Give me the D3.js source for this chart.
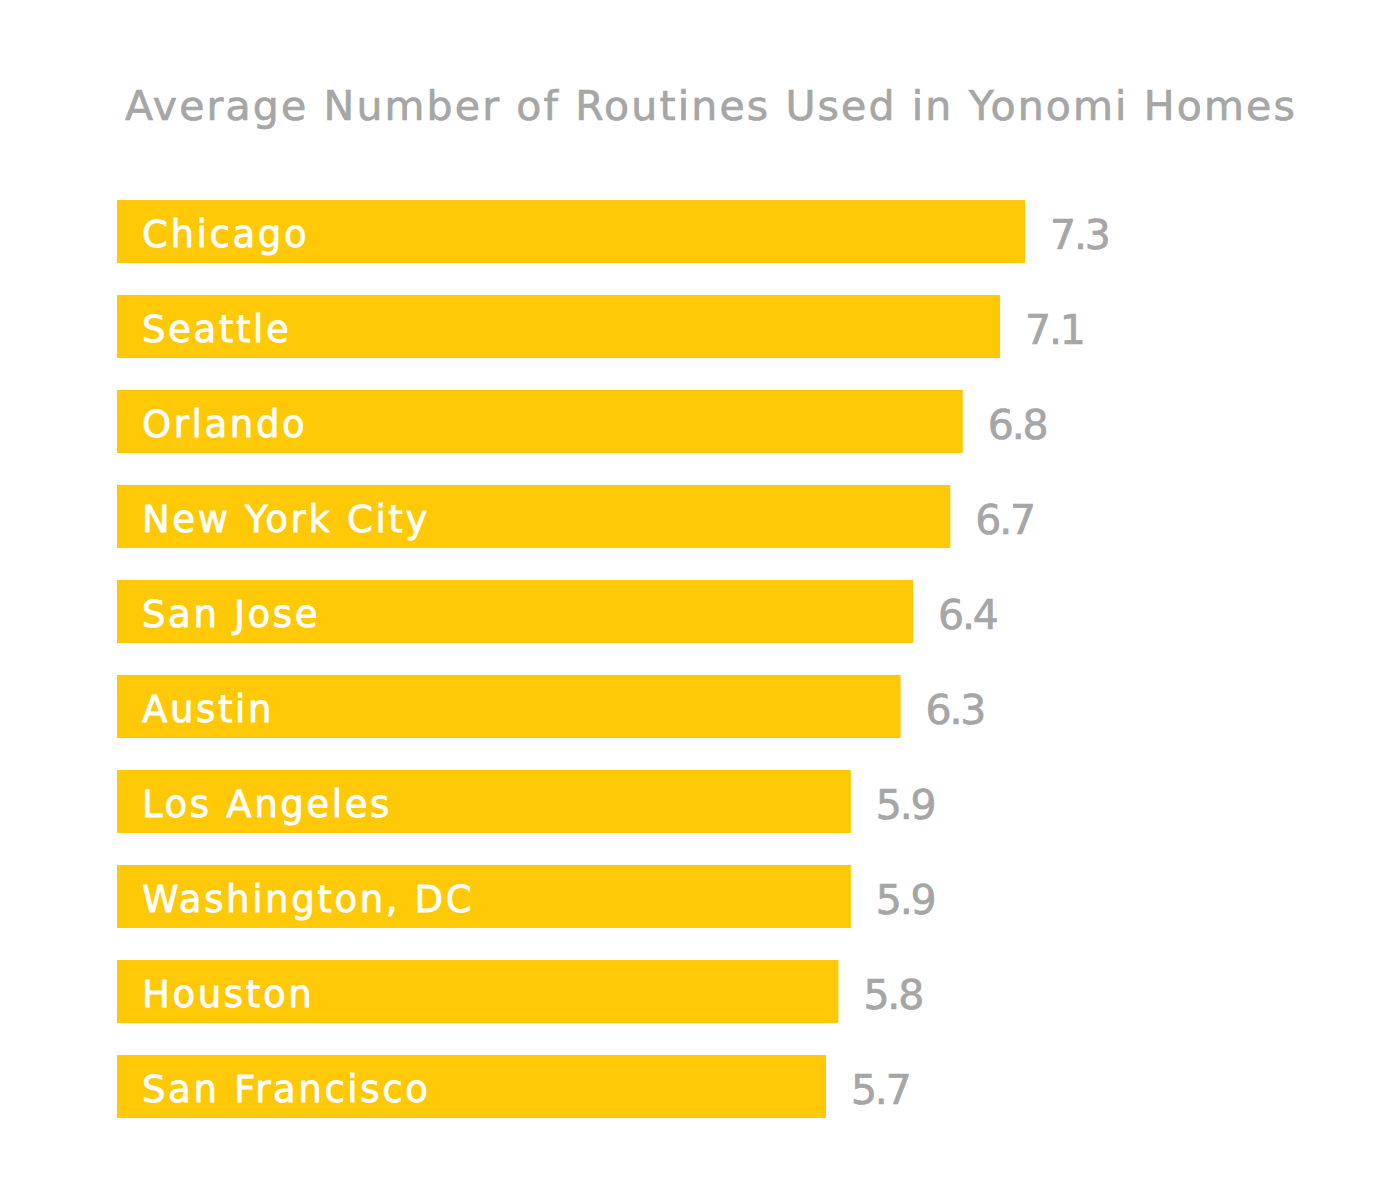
<!DOCTYPE html>
<html><head><meta charset="utf-8">
<script src="https://cdn.jsdelivr.net/npm/d3@7"></script>
<style>body{margin:0;background:#fff;} svg{display:block;}</style>
</head><body>
<svg id="chart" width="1400" height="1200"></svg>
<script>
const cities = ["Chicago","Seattle","Orlando","New York City","San Jose","Austin","Los Angeles","Washington, DC","Houston","San Francisco"];
const values = [7.3,7.1,6.8,6.7,6.4,6.3,5.9,5.9,5.8,5.7];
const valueLabels = ["7.3","7.1","6.8","6.7","6.4","6.3","5.9","5.9","5.8","5.7"];
const title = "Average Number of Routines Used in Yonomi Homes";

const FONT = "'DejaVu Sans', 'Open Sans', sans-serif";
const GRAY = "#a6a6a6";
const svg = d3.select("#chart");
const x = d3.scaleLinear().domain([0, 7.3]).range([117, 1025]);
const y = d3.scaleBand().domain(cities).range([200, 1118]).paddingInner(0.337).paddingOuter(0);

const t = svg.append("text").attr("x",125).attr("y",120)
  .attr("font-family",FONT).attr("font-size",41).attr("fill",GRAY)
  .attr("stroke",GRAY).attr("stroke-width",0.7)
  .text(title);
// spread letters so the title spans the same width as in the reference
const w0 = t.node().getComputedTextLength();
const ls = (1172 - w0) / title.length;
t.attr("letter-spacing", ls + "px");

const g = svg.append("g");
g.selectAll("rect").data(cities).join("rect")
  .attr("x", x(0)).attr("y", d=>y(d))
  .attr("width", (d,i)=>x(values[i])-x(0)).attr("height", y.bandwidth())
  .attr("fill","#ffc907");
const cl = g.selectAll("text.city").data(cities).join("text").attr("class","city")
  .attr("x", x(0)+25).attr("y", d=>y(d)+y.bandwidth()/2+15.5)
  .attr("font-family",FONT).attr("font-size",37).attr("fill","#fff")
  .attr("stroke","#fff").attr("stroke-width",0.8)
  .text(d=>d);
const nyc = cl.filter(d=>d==="New York City").node();
const ls2 = (288 - nyc.getComputedTextLength()) / 13;
cl.attr("letter-spacing", ls2 + "px");
g.selectAll("text.val").data(cities).join("text").attr("class","val")
  .attr("x", (d,i)=>x(values[i])+25).attr("y", d=>y(d)+y.bandwidth()/2+17.5)
  .attr("font-family",FONT).attr("font-size",41).attr("fill",GRAY)
  .attr("stroke",GRAY).attr("stroke-width",0.7)
  .attr("letter-spacing", "-2.2px").text((d,i)=>valueLabels[i]);
</script>
</body></html>
